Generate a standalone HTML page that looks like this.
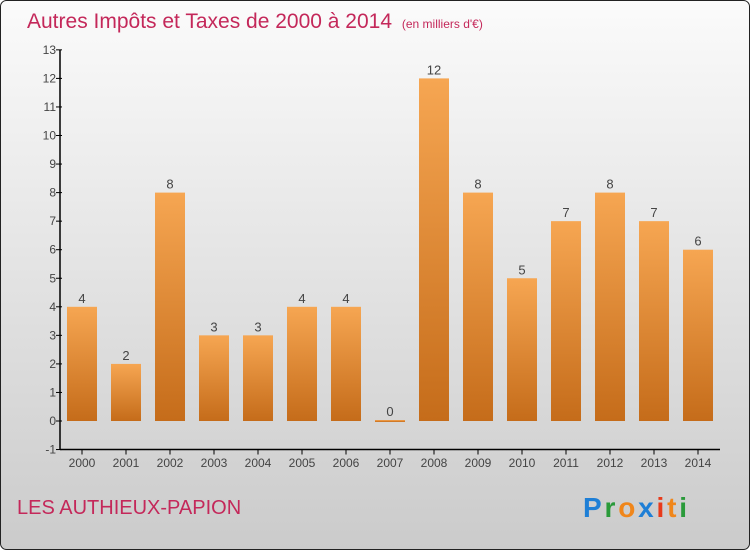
<!DOCTYPE html>
<html><head><meta charset="utf-8"><style>
body{margin:0;width:750px;height:550px;overflow:hidden;font-family:"Liberation Sans",sans-serif}
</style></head><body>
<svg id="c" width="750" height="550" xmlns="http://www.w3.org/2000/svg">
<defs>
<linearGradient id="bg" x1="0" y1="0" x2="0" y2="1"><stop offset="0" stop-color="#fbfbfb"/><stop offset="1" stop-color="#cbcbcb"/></linearGradient>
<linearGradient id="bar" x1="0" y1="0" x2="0" y2="1"><stop offset="0" stop-color="#f6a652"/><stop offset="1" stop-color="#c56c1a"/></linearGradient>
</defs>
<rect x="0.5" y="0.5" width="749" height="549" rx="6" fill="url(#bg)" stroke="#222"/>
<text x="27" y="28" font-size="21" fill="#c4285a">Autres Impôts et Taxes de 2000 à 2014 <tspan font-size="12" dx="4">(en milliers d'€)</tspan></text>
<text x="17" y="514" font-size="20" fill="#c4285a">LES AUTHIEUX-PAPION</text>
<g font-size="28" font-weight="bold">
<text x="583" y="517" textLength="104"><tspan fill="#1e7fd6">P</tspan><tspan fill="#2a9a3a">r</tspan><tspan fill="#f0861a">o</tspan><tspan fill="#1e7fd6">x</tspan><tspan fill="#e83a1a">i</tspan><tspan fill="#f0861a">t</tspan><tspan fill="#2a9a3a">i</tspan></text>
</g>
<g id="axes"></g><g id="bars"></g>
</svg>
<script>
const years=["2000","2001","2002","2003","2004","2005","2006","2007","2008","2009","2010","2011","2012","2013","2014"];
const values=[4,2,8,3,3,4,4,0,12,8,5,7,8,7,6];
const yTicks=[-1,0,1,2,3,4,5,6,7,8,9,10,11,12,13];
const NS="http://www.w3.org/2000/svg";
const y=v=>421-(v*28.55);
const x=i=>82+i*44;
function mk(t,a,p,txt){const e=document.createElementNS(NS,t);for(const k in a)e.setAttribute(k,a[k]);if(txt!==undefined)e.textContent=txt;p.appendChild(e);return e;}
const ax=document.getElementById('axes'),bg=document.getElementById('bars');
let l=mk('line',{x1:60,y1:y(13),x2:60,y2:y(-1),stroke:'#000','stroke-width':1.5},ax);


l=mk('line',{x1:60,y1:y(-1),x2:720,y2:y(-1),stroke:'#000','stroke-width':1.5},ax);


yTicks.forEach(v=>{
 mk('line',{x1:56,y1:y(v),x2:62,y2:y(v),stroke:'#000'},ax);
 const t=mk('text',{x:56,y:y(v)+4,'font-size':12,'text-anchor':'end',fill:'#444'},ax,String(v));
 
 
});
years.forEach((yr,i)=>{
 mk('line',{x1:x(i),y1:y(-1),x2:x(i),y2:y(-1)+5,stroke:'#000'},ax);
 const t=mk('text',{x:x(i),y:467,'font-size':12,'text-anchor':'middle',fill:'#444'},ax,yr);
 
 
 const v=values[i];const top=y(v);const h=Math.max(y(0)-top,2);
 const r=mk('rect',{x:x(i)-15,y:v===0?y(0)-1:top,width:30,height:h,fill:'url(#bar)'},bg);
 
 
 const vl=mk('text',{x:x(i),y:(v===0?y(0)-1:top)-4,'font-size':13,'text-anchor':'middle',fill:'#444'},bg,String(v));
 
 
});
</script>
</body></html>
